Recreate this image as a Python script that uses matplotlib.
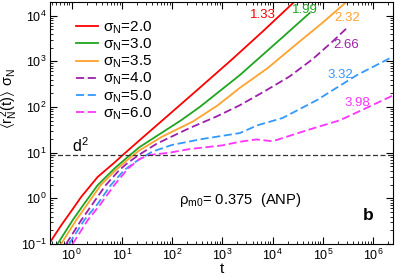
import numpy as np
import matplotlib
matplotlib.use('Agg')
import matplotlib.pyplot as plt

plt.rcParams['font.family'] = ['Liberation Sans', 'DejaVu Sans']
plt.rcParams['mathtext.fontset'] = 'dejavusans'
plt.rcParams['mathtext.default'] = 'regular'

# curves, (log10 t, log10 <r^2> sigma)
lt_red = [-0.44, -0.2, 0.0, 0.19, 0.52, 0.85, 1.0, 1.35, 1.81, 2.55, 3.18, 3.8, 4.44]
ly_red = [-0.98, -0.58, -0.27, 0.03, 0.47, 0.78, 0.93, 1.27, 1.71, 2.42, 3.03, 3.65, 4.31]
lt_green = [-0.28, 0.02, 0.25, 0.52, 0.85, 1.12, 1.35, 2.18, 2.55, 3.35, 4.14, 4.74]
ly_green = [-1.0, -0.48, -0.12, 0.29, 0.65, 0.91, 1.12, 1.71, 2.0, 2.70, 3.47, 4.06]
lt_orange = [-0.21, 0.09, 0.32, 0.58, 0.88, 1.12, 1.35, 1.8, 2.41, 2.9, 3.35, 3.9, 4.5, 5.0, 5.48]
ly_orange = [-1.0, -0.48, -0.12, 0.29, 0.62, 0.85, 1.05, 1.35, 1.68, 2.03, 2.42, 2.85, 3.4, 3.85, 4.31]
lt_purple = [-0.11, 0.19, 0.42, 0.68, 0.95, 1.12, 1.35, 1.7, 2.35, 2.9, 3.35, 3.85, 4.34, 4.8, 5.2, 5.48]
ly_purple = [-1.0, -0.48, -0.12, 0.29, 0.62, 0.78, 0.96, 1.2, 1.54, 1.8, 2.04, 2.35, 2.67, 3.05, 3.44, 3.73]
lt_blue = [-0.05, 0.25, 0.52, 0.78, 1.05, 1.3, 1.6, 2.0, 2.6, 3.35, 3.7, 4.2, 4.88, 5.68, 6.39]
ly_blue = [-1.0, -0.48, -0.12, 0.29, 0.62, 0.82, 1.02, 1.17, 1.3, 1.43, 1.6, 1.76, 2.15, 2.7, 3.1]
lt_mag = [0.02, 0.32, 0.58, 0.85, 1.12, 1.35, 1.55, 1.95, 2.35, 3.0, 3.35, 3.68, 4.0, 4.68, 5.34, 5.87, 6.39]
ly_mag = [-1.0, -0.48, -0.12, 0.29, 0.65, 0.86, 0.95, 1.0, 1.08, 1.16, 1.24, 1.29, 1.25, 1.49, 1.71, 1.98, 2.25]

sigmas = ['2.0', '3.0', '3.5', '4.0', '5.0', '6.0']
exponents = ['1.33', '1.99', '2.32', '2.66', '3.32', '3.98']
d2 = 8.8

fig = plt.figure(figsize=(3.99, 2.77), dpi=100)
ax = fig.add_axes([0.125, 0.119, 0.86, 0.874])

curves = [(lt_red, ly_red, '#ff0000', '-'),
          (lt_green, ly_green, '#1fa51f', '-'),
          (lt_orange, ly_orange, '#ffa22e', '-'),
          (lt_purple, ly_purple, '#9e1faa', '--'),
          (lt_blue, ly_blue, '#3399ff', '--'),
          (lt_mag, ly_mag, '#ff33ff', '--')]

for (lt, ly, c, ls), s in zip(curves, sigmas):
    if ls == '--':
        ax.plot(10**np.array(lt), 10**np.array(ly), color=c, lw=1.3,
                ls='--', dashes=(4.5, 2), label=r'$\sigma_N$=' + s)
    else:
        ax.plot(10**np.array(lt), 10**np.array(ly), color=c, lw=1.3,
                label=r'$\sigma_N$=' + s)

ax.axhline(d2, color='#333333', ls='--', lw=0.9, dashes=(4, 2))

ax.set_xscale('log')
ax.set_yscale('log')
ax.set_xlim(0.37, 2.5e6)
ax.set_ylim(0.1, 2e4)
ax.tick_params(which='both', direction='in', top=True, right=True, labelsize=9, pad=2.5)
ax.tick_params(which='major', length=5)
ax.tick_params(which='minor', length=2.5)
ax.set_xlabel('t', fontsize=11)
ax.xaxis.set_label_coords(0.5, -0.075)
ax.set_ylabel(r'$\langle r_N^{\,2}(t)\rangle\ \sigma_N$', fontsize=10.5)
ax.yaxis.set_label_coords(-0.088, 0.6)

ax.legend(loc='upper left', bbox_to_anchor=(0.05, 0.965), frameon=False,
          fontsize=11, handlelength=1.45, labelspacing=0.05, handletextpad=0.3,
          borderaxespad=0.2)

ex_pos = [(6.3e3, 1.05e4), (4.4e4, 1.3e4), (3.0e5, 9.1e3),
          (2.9e5, 2.3e3), (2.2e5, 5.0e2), (4.8e5, 1.23e2)]
for cv, e, (x, y) in zip(curves, exponents, ex_pos):
    ax.text(x, y, e, color=cv[2], fontsize=9.5, ha='center', va='center')

ax.text(1.0, 10.3, r'd$^2$', fontsize=11.5, ha='left', va='baseline')
ax.text(140, 0.9, r'$\rho_{m0}$= 0.375  (ANP)', fontsize=10.6, ha='left', va='center')
ax.text(8e5, 0.42, 'b', fontsize=12.5, fontweight='bold', ha='center', va='center')

fig.savefig('out.png', dpi=100)
